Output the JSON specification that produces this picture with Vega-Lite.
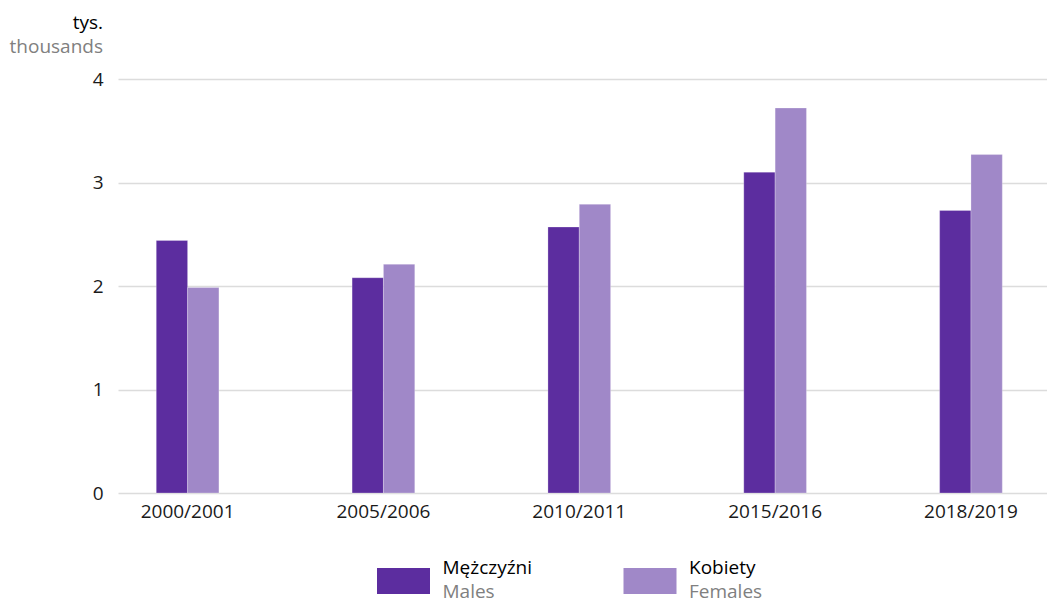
{
  "$schema": "https://vega.github.io/schema/vega-lite/v6.json",
  "padding": {"left": 9, "right": 0, "top": 14, "bottom": 0},
  "background": "white",
  "config": {
    "font": "Open Sans",
    "view": {"stroke": null},
    "axis": {"labelFont": "Open Sans", "titleFont": "Open Sans"}
  },
  "spacing": 38,
  "vconcat": [
    {
      "width": 933,
      "height": 414,
      "title": {
        "text": "tys.",
        "subtitle": "thousands",
        "anchor": "start",
        "frame": "group",
        "align": "right",
        "dx": -15,
        "fontSize": 19,
        "fontWeight": "normal",
        "color": "#000000",
        "font": "Open Sans",
        "subtitleFontSize": 19,
        "subtitleColor": "#808080",
        "subtitlePadding": 5,
        "subtitleFont": "Open Sans",
        "offset": 13
      },
      "data": {
        "values": [
          {"year": "2000/2001", "sex": "Mężczyźni", "value": 2.44},
          {"year": "2000/2001", "sex": "Kobiety", "value": 1.985},
          {"year": "2005/2006", "sex": "Mężczyźni", "value": 2.08},
          {"year": "2005/2006", "sex": "Kobiety", "value": 2.21},
          {"year": "2010/2011", "sex": "Mężczyźni", "value": 2.57},
          {"year": "2010/2011", "sex": "Kobiety", "value": 2.79},
          {"year": "2015/2016", "sex": "Mężczyźni", "value": 3.10},
          {"year": "2015/2016", "sex": "Kobiety", "value": 3.72},
          {"year": "2018/2019", "sex": "Mężczyźni", "value": 2.73},
          {"year": "2018/2019", "sex": "Kobiety", "value": 3.27}
        ]
      },
      "mark": {"type": "bar", "stroke": "#ffffff", "strokeOpacity": 0.25, "strokeWidth": 1},
      "encoding": {
        "x": {
          "field": "year",
          "type": "nominal",
          "sort": null,
          "scale": {"paddingInner": 0.68, "paddingOuter": 0.222, "align": 0.44},
          "axis": {
            "title": null,
            "labelAngle": 0,
            "labelFontSize": 19,
            "labelColor": "#1a1a1a",
            "labelPadding": 9,
            "domain": false,
            "ticks": false,
            "tickSize": 0
          }
        },
        "xOffset": {
          "field": "sex",
          "type": "nominal",
          "sort": ["Mężczyźni", "Kobiety"],
          "scale": {"paddingInner": 0, "paddingOuter": 0}
        },
        "y": {
          "field": "value",
          "type": "quantitative",
          "scale": {"domain": [0, 4], "nice": false},
          "axis": {
            "title": null,
            "values": [0, 1, 2, 3, 4],
            "format": "d",
            "labelFontSize": 19,
            "labelColor": "#1a1a1a",
            "labelPadding": 15,
            "domain": false,
            "ticks": false,
            "tickSize": 0,
            "grid": true,
            "gridColor": "#dcdcdc",
            "gridWidth": 1.5
          }
        },
        "color": {
          "field": "sex",
          "type": "nominal",
          "scale": {"domain": ["Mężczyźni", "Kobiety"], "range": ["#5c2d9f", "#a088c8"]},
          "legend": null
        }
      }
    },
    {
      "width": 933,
      "height": 40,
      "data": {
        "values": [
          {"sex": "Mężczyźni", "en": "Males"},
          {"sex": "Kobiety", "en": "Females"}
        ]
      },
      "encoding": {
        "x": {
          "field": "sex",
          "type": "nominal",
          "sort": ["Mężczyźni", "Kobiety"],
          "scale": {"type": "point", "range": [285.5, 532], "padding": 0},
          "axis": null
        }
      },
      "layer": [
        {
          "mark": {"type": "point", "filled": true, "opacity": 1, "shape": "M-1,-0.49H1V0.49H-1Z", "size": 2809, "strokeWidth": 0},
          "encoding": {
            "color": {
              "field": "sex",
              "type": "nominal",
              "scale": {"domain": ["Mężczyźni", "Kobiety"], "range": ["#5c2d9f", "#a088c8"]},
              "legend": null
            }
          }
        },
        {
          "mark": {"type": "text", "align": "left", "baseline": "alphabetic", "dx": 39, "dy": -7, "fontSize": 19, "color": "#000000", "font": "Open Sans"},
          "encoding": {"text": {"field": "sex"}}
        },
        {
          "mark": {"type": "text", "align": "left", "baseline": "alphabetic", "dx": 39, "dy": 17, "fontSize": 19, "color": "#808080", "font": "Open Sans"},
          "encoding": {"text": {"field": "en"}}
        }
      ]
    }
  ]
}
